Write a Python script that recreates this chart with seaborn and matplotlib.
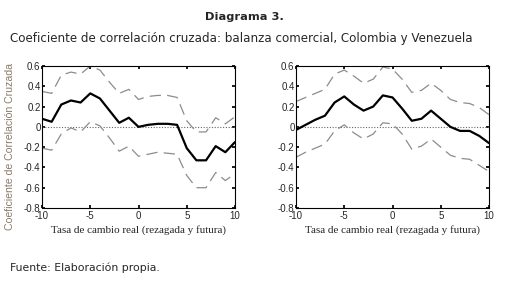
import numpy as np
import pandas as pd
import matplotlib
matplotlib.use('Agg')
import matplotlib.pyplot as plt
import seaborn as sns

# lags of the real exchange rate
lags = list(range(-10, 11))

# left panel: Colombia
col_ccf = [0.08, 0.05, 0.22, 0.26, 0.24, 0.33, 0.28, 0.16, 0.04, 0.09, 0.00,
           0.02, 0.03, 0.03, 0.02, -0.21, -0.33, -0.33, -0.19, -0.25, -0.15]
col_upper = [0.35, 0.33, 0.51, 0.54, 0.52, 0.60, 0.56, 0.44, 0.33, 0.37, 0.27,
             0.30, 0.31, 0.31, 0.29, 0.06, -0.05, -0.05, 0.09, 0.03, 0.10]
col_lower = [-0.21, -0.23, -0.07, -0.01, -0.05, 0.05, 0.01, -0.11, -0.24, -0.19, -0.29,
             -0.27, -0.25, -0.26, -0.27, -0.48, -0.60, -0.60, -0.45, -0.53, -0.46]

# right panel: Venezuela
ven_ccf = [-0.03, 0.02, 0.07, 0.11, 0.24, 0.30, 0.22, 0.16, 0.20, 0.31, 0.29,
           0.18, 0.06, 0.08, 0.16, 0.08, 0.00, -0.04, -0.04, -0.09, -0.16]
ven_upper = [0.25, 0.29, 0.33, 0.37, 0.52, 0.56, 0.50, 0.43, 0.47, 0.59, 0.57,
             0.47, 0.34, 0.36, 0.43, 0.36, 0.27, 0.24, 0.23, 0.19, 0.12]
ven_lower = [-0.30, -0.25, -0.21, -0.17, -0.04, 0.02, -0.06, -0.12, -0.07, 0.04, 0.03,
             -0.07, -0.22, -0.19, -0.12, -0.20, -0.28, -0.31, -0.32, -0.38, -0.44]

yticks = [0.6, 0.4, 0.2, 0, -0.2, -0.4, -0.6, -0.8]
ytick_labels = ['0.6', '0.4', '0.2', '0', '-0.2', '-0.4', '-0.6', '-0.8']
xticks = [-10, -5, 0, 5, 10]

sns.set_theme(style='white')
plt.rcParams['font.family'] = ['Liberation Sans', 'DejaVu Sans']

fig = plt.figure(figsize=(5.07, 2.86), dpi=100)

# axes boxes in pixels (left, top, right, bottom)
W, H = 507, 286
boxes = [(42, 66, 235, 208), (296, 66, 489, 208)]
panels = [(col_ccf, col_upper, col_lower), (ven_ccf, ven_upper, ven_lower)]

for (x0, y0, x1, y1), (mid, up, lo) in zip(boxes, panels):
    ax = fig.add_axes([x0 / W, 1 - y1 / H, (x1 - x0) / W, (y1 - y0) / H])
    df = pd.DataFrame({'lag': lags, 'ccf': mid, 'up': up, 'lo': lo})
    ax.axhline(0, color='#666666', lw=0.8, ls=(0, (1, 1.5)))
    for col in ['up', 'lo']:
        sns.lineplot(data=df, x='lag', y=col, ax=ax, color='#8c8c8c', lw=0.9)
        ax.lines[-1].set_dashes([9, 5])
    sns.lineplot(data=df, x='lag', y='ccf', ax=ax, color='black', lw=1.6)
    ax.set_xlim(-10, 10)
    ax.set_ylim(-0.8, 0.6)
    ax.set_xticks(xticks)
    ax.set_xticklabels([str(t) for t in xticks], fontsize=7)
    ax.set_yticks(yticks)
    ax.set_yticklabels(ytick_labels, fontsize=7)
    ax.tick_params(axis='both', length=2, pad=1, direction='in', color='black')
    ax.tick_params(axis='x', pad=2.5)
    ax.tick_params(axis='both', which='both', bottom=True, left=True, top=True, right=True)
    for s in ax.spines.values():
        s.set_color('black')
        s.set_linewidth(0.8)
    ax.set_xlabel('Tasa de cambio real (rezagada y futura)', fontsize=8,
                  family='Liberation Serif', labelpad=2.5)
    ax.set_ylabel('')

fig.text(10 / W, 1 - 147 / H, 'Coeficiente de Correlación Cruzada', rotation=90,
         ha='center', va='center', fontsize=7.6, color='#8a7a68')

fig.text(244 / W, 1 - 17 / H, 'Diagrama 3.', ha='center', va='center',
         fontsize=8.2, fontweight='bold', family='DejaVu Sans')
fig.text(10 / W, 1 - 38 / H,
         'Coeficiente de correlación cruzada: balanza comercial, Colombia y Venezuela',
         ha='left', va='center', fontsize=8.6, family='DejaVu Sans')
fig.text(10 / W, 1 - 268 / H, 'Fuente: Elaboración propia.', ha='left', va='center',
         fontsize=7.8, family='DejaVu Sans')

fig.savefig('out.png', dpi=100, facecolor='white')
